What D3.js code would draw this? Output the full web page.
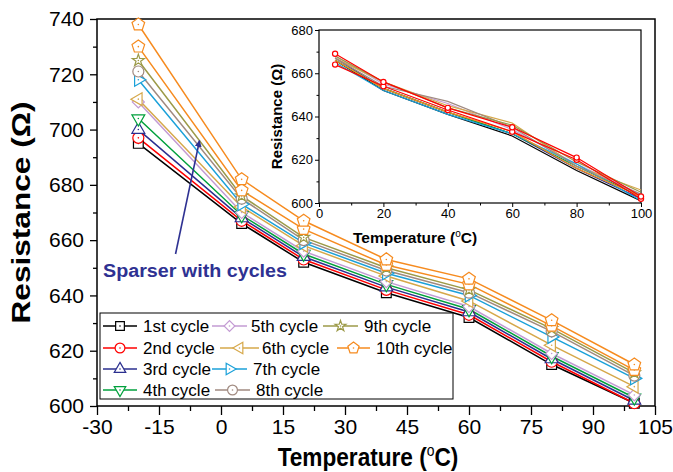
<!DOCTYPE html>
<html lang="en">
<head>
<meta charset="UTF-8">
<title>Resistance vs temperature</title>
<script src="https://d3js.org/d3.v7.min.js"></script>
<style>
  body { margin: 0; background: #fff; }
  svg text { font-family: "Liberation Sans", Arial, sans-serif; fill: #000; }
</style>
</head>
<body>
<div id="chart"></div>
<script>
// ---- data ----
const temps = [-20, 5, 20, 40, 60, 80, 100];
const cycleNames = ["1st cycle", "2nd cycle", "3rd cycle", "4th cycle", "5th cycle",
                    "6th cycle", "7th cycle", "8th cycle", "9th cycle", "10th cycle"];
const cycleColors = ["#000000", "#ff0000", "#2b2f8f", "#00a03c", "#c39bd3",
                     "#d6a84a", "#1ba1d9", "#a08a80", "#9c9a48", "#f68b1f"];
const cycleShapes = ["square", "circle", "triUp", "triDown", "diamond",
                     "triLeft", "triRight", "circle", "star", "pentagon"];

const cycle1  = [695, 666, 652, 641, 632, 615, 601];
const cycle2  = [697, 667, 653, 642, 633, 616, 601];
const cycle3  = [700, 668, 654, 643, 634, 617, 602];
const cycle4  = [704, 669, 655, 644, 635, 618, 603];
const cycle5  = [710, 670, 656, 645, 636, 619, 604];
const cycle6  = [711, 672, 658, 647, 638, 622, 607];
const cycle7  = [718, 673, 659, 648, 640, 625, 610];
const cycle8  = [721, 675, 660, 649, 641, 627, 611];
const cycle9  = [725, 676, 661, 650, 642, 628, 612];
const cycle10 = [738, 682, 667, 653, 646, 631, 615];
// second orange pentagon curve, drawn but not in legend
const cycle10b = [730, 678, 664, 651, 644, 629, 613];

const xTicks = [-30, -15, 0, 15, 30, 45, 60, 75, 90, 105];
const yTicks = [600, 620, 640, 660, 680, 700, 720, 740];

// inset
const insetTemps = [5, 20, 40, 60, 80, 100];
const insetBlack    = [666, 652, 641, 631, 615, 601];
const insetNavy     = [667, 653, 642, 632, 616, 602];
const insetGreen    = [666, 653, 642, 632, 617, 603];
const insetLavender = [668, 655, 646, 634, 618, 604];
const insetGold     = [667, 656, 645, 637, 617, 606];
const insetCyan     = [665, 652, 641, 632, 618, 601];
const insetGray     = [667, 654, 647, 635, 617, 604];
const insetOlive    = [668, 656, 644, 636, 619, 605];
const insetOrange   = [666, 653, 642, 633, 616, 603];
const insetRedA     = [669, 656, 644, 635, 621, 603];
const insetRedB     = [664, 654, 643, 633, 620, 602];
const insetXTicks = [0, 20, 40, 60, 80, 100];
const insetYTicks = [600, 620, 640, 660, 680];

// ---- setup ----
const width = 673, height = 472;
const svg = d3.select("#chart").append("svg")
    .attr("width", width)
    .attr("height", height);

const x = d3.scaleLinear().domain([-30, 105]).range([97, 655]);
const y = d3.scaleLinear().domain([600, 740]).range([406, 19]);
const plain = d => String(d);   // keep ascii hyphen for negatives

// custom pentagon symbol
const symbolPentagon = {
  draw(ctx, size) {
    const r = Math.sqrt(size / 2.378);
    for (let i = 0; i < 5; i++) {
      const a = -Math.PI / 2 + i * 2 * Math.PI / 5;
      if (i === 0) ctx.moveTo(r * Math.cos(a), r * Math.sin(a));
      else ctx.lineTo(r * Math.cos(a), r * Math.sin(a));
    }
    ctx.closePath();
  }
};
const shapeDefs = {
  square:   [d3.symbolSquare, 0, 95],
  circle:   [d3.symbolCircle, 0, 95],
  triUp:    [d3.symbolTriangle, 0, 72],
  triDown:  [d3.symbolTriangle, 180, 72],
  diamond:  [d3.symbolSquare, 45, 72],
  triLeft:  [d3.symbolTriangle, -90, 72],
  triRight: [d3.symbolTriangle, 90, 72],
  star:     [d3.symbolStar, 0, 45],
  pentagon: [symbolPentagon, 0, 105]
};

function drawMarker(g, shape, cx, cy, color, k) {
  const def = shapeDefs[shape];
  g.append("path")
      .attr("d", d3.symbol().type(def[0]).size(def[2] * k)())
      .attr("transform", `translate(${cx},${cy}) rotate(${def[1]})`)
      .attr("fill", "#fff")
      .attr("stroke", color)
      .attr("stroke-width", 1.2);
  g.append("circle")
      .attr("cx", cx).attr("cy", cy).attr("r", 0.8)
      .attr("fill", color);
}

// ---- main axes ----
function styleAxis(g) {
  g.select(".domain").remove();
  g.selectAll("line").attr("stroke", "#000").attr("stroke-width", 1.3);
}

svg.append("g")
    .attr("transform", `translate(0,${y(600)})`)
    .call(d3.axisBottom(x).tickValues(xTicks).tickFormat(plain).tickSize(9).tickPadding(4))
    .call(styleAxis)
    .selectAll("text").style("font-size", "21px");
svg.append("g")
    .attr("transform", `translate(0,${y(600)})`)
    .call(d3.axisBottom(x).tickValues(xTicks.slice(0, -1).map(d => d + 7.5)).tickSize(5).tickFormat(""))
    .call(styleAxis);

svg.append("g")
    .attr("transform", `translate(${x(-30)},0)`)
    .call(d3.axisLeft(y).tickValues(yTicks).tickFormat(plain).tickSize(7).tickPadding(6))
    .call(styleAxis)
    .selectAll("text").style("font-size", "21px");
svg.append("g")
    .attr("transform", `translate(${x(-30)},0)`)
    .call(d3.axisLeft(y).tickValues(yTicks.slice(0, -1).map(d => d + 10)).tickSize(4).tickFormat(""))
    .call(styleAxis);

svg.append("rect")
    .attr("x", x(-30)).attr("y", y(740))
    .attr("width", x(105) - x(-30)).attr("height", y(600) - y(740))
    .attr("fill", "none").attr("stroke", "#000").attr("stroke-width", 1.5);

// axis titles
svg.append("text")
    .attr("transform", `translate(30,${(y(600) + y(740)) / 2}) rotate(-90)`)
    .attr("text-anchor", "middle")
    .attr("textLength", 222).attr("lengthAdjust", "spacingAndGlyphs")
    .style("font-size", "26px").style("font-weight", "bold")
    .text("Resistance (\u03a9)");

const xt = svg.append("text")
    .attr("transform", "translate(368,466) scale(0.87,1)")
    .attr("text-anchor", "middle")
    .style("font-size", "26px").style("font-weight", "bold");
xt.append("tspan").text("Temperature (");
xt.append("tspan").attr("dy", -10).style("font-size", "16px").style("font-weight", "normal").text("o");
xt.append("tspan").attr("dy", 10).text("C)");

// ---- series ----
const series = [cycle1, cycle2, cycle3, cycle4, cycle5, cycle6, cycle7, cycle8, cycle9, cycle10b, cycle10]
  .map((vals, i) => {
    const idx = i < 9 ? i : 9;
    return { name: i === 9 ? null : cycleNames[idx], color: cycleColors[idx], shape: cycleShapes[idx], values: vals };
  });

const line = d3.line().x((d, i) => x(temps[i])).y(d => y(d));
const plot = svg.append("g");
series.forEach(s => {
  plot.append("path")
      .attr("d", line(s.values))
      .attr("fill", "none")
      .attr("stroke", s.color)
      .attr("stroke-width", 1.5);
});
series.forEach(s => {
  s.values.forEach((v, i) => drawMarker(plot, s.shape, x(temps[i]), y(v), s.color, 1));
});

// ---- annotation ----
svg.append("defs").append("marker")
    .attr("id", "arrow")
    .attr("viewBox", "0 0 10 10")
    .attr("refX", 9).attr("refY", 5)
    .attr("markerWidth", 7).attr("markerHeight", 7)
    .attr("markerUnits", "userSpaceOnUse")
    .attr("orient", "auto")
    .append("path").attr("d", "M0,0 L10,5 L0,10 Z").attr("fill", "#2e3192");
svg.append("line")
    .attr("x1", x(-11)).attr("y1", y(655))
    .attr("x2", x(-5.2)).attr("y2", y(696))
    .attr("stroke", "#2e3192").attr("stroke-width", 1.6)
    .attr("marker-end", "url(#arrow)");
svg.append("text")
    .attr("x", 103).attr("y", 277)
    .attr("textLength", 184).attr("lengthAdjust", "spacingAndGlyphs")
    .style("font-size", "18px").style("font-weight", "bold")
    .style("fill", "#2e3192")
    .text("Sparser with cycles");

// ---- legend ----
const legendRows = [326, 348, 369, 390];
const legendPos = [
  [103, 137, 143], [103, 137, 143], [103, 137, 143], [103, 137, 143],
  [212, 247, 251], [220, 259, 262], [212, 247, 253], [215, 250, 256],
  [323, 358, 364], [337, 370, 376]
];
const legend = svg.append("g");
legend.append("rect")
    .attr("x", 100).attr("y", 313).attr("width", 353).attr("height", 86)
    .attr("fill", "#fff").attr("stroke", "#000").attr("stroke-width", 1);
cycleNames.forEach((name, i) => {
  const ly = legendRows[i % 4];
  const [a, b, t] = legendPos[i];
  legend.append("line")
      .attr("x1", a).attr("x2", b).attr("y1", ly).attr("y2", ly)
      .attr("stroke", cycleColors[i]).attr("stroke-width", 1.5);
  drawMarker(legend, cycleShapes[i], (a + b) / 2, ly, cycleColors[i], 0.8);
  legend.append("text")
      .attr("x", t).attr("y", ly).attr("dy", "0.36em")
      .style("font-size", "17px")
      .text(name);
});

// ---- inset ----
const xi = d3.scaleLinear().domain([0, 100]).range([319, 641]);
const yi = d3.scaleLinear().domain([600, 680]).range([203, 30]);
const inset = svg.append("g");

inset.append("g")
    .attr("transform", `translate(0,${yi(600)})`)
    .call(d3.axisBottom(xi).tickValues(insetXTicks).tickFormat(plain).tickSize(4).tickPadding(2))
    .call(styleAxis)
    .selectAll("text").style("font-size", "13px");
inset.append("g")
    .attr("transform", `translate(0,${yi(600)})`)
    .call(d3.axisBottom(xi).tickValues([10, 30, 50, 70, 90]).tickSize(2.5).tickFormat(""))
    .call(styleAxis);
inset.append("g")
    .attr("transform", `translate(${xi(0)},0)`)
    .call(d3.axisLeft(yi).tickValues(insetYTicks).tickFormat(plain).tickSize(4).tickPadding(2))
    .call(styleAxis)
    .selectAll("text").style("font-size", "13px");
inset.append("g")
    .attr("transform", `translate(${xi(0)},0)`)
    .call(d3.axisLeft(yi).tickValues([610, 630, 650, 670]).tickSize(2.5).tickFormat(""))
    .call(styleAxis);
inset.selectAll("line").attr("stroke-width", 1);

inset.append("rect")
    .attr("x", xi(0)).attr("y", yi(680))
    .attr("width", xi(100) - xi(0)).attr("height", yi(600) - yi(680))
    .attr("fill", "none").attr("stroke", "#000").attr("stroke-width", 1.2);

inset.append("text")
    .attr("transform", `translate(282,${(yi(600) + yi(680)) / 2}) rotate(-90)`)
    .attr("text-anchor", "middle")
    .style("font-size", "15px").style("font-weight", "bold")
    .text("Resistance (\u03a9)");
const ixt = inset.append("text")
    .attr("x", 353).attr("y", 243)
    .style("font-size", "15.5px").style("font-weight", "bold");
ixt.append("tspan").text("Temperature (");
ixt.append("tspan").attr("dy", -6).style("font-size", "10px").style("font-weight", "normal").text("o");
ixt.append("tspan").attr("dy", 6).text("C)");

const insetSeries = [
  [insetBlack, "#000000"], [insetNavy, "#2b2f8f"], [insetGreen, "#00a03c"],
  [insetLavender, "#c39bd3"], [insetGold, "#d6a84a"], [insetCyan, "#1ba1d9"],
  [insetGray, "#a08a80"], [insetOlive, "#9c9a48"], [insetOrange, "#f68b1f"],
  [insetRedB, "#ff0000"], [insetRedA, "#ff0000"]
];
const lineI = d3.line().x((d, i) => xi(insetTemps[i])).y(d => yi(d));
insetSeries.forEach(([vals, col]) => {
  inset.append("path")
      .attr("d", lineI(vals))
      .attr("fill", "none").attr("stroke", col).attr("stroke-width", 1.2);
});
[insetRedB, insetRedA].forEach(vals => {
  vals.forEach((v, i) => {
    inset.append("circle")
        .attr("cx", xi(insetTemps[i])).attr("cy", yi(v)).attr("r", 2.6)
        .attr("fill", "#fff").attr("stroke", "#ff0000").attr("stroke-width", 1.2);
  });
});
</script>
</body>
</html>
